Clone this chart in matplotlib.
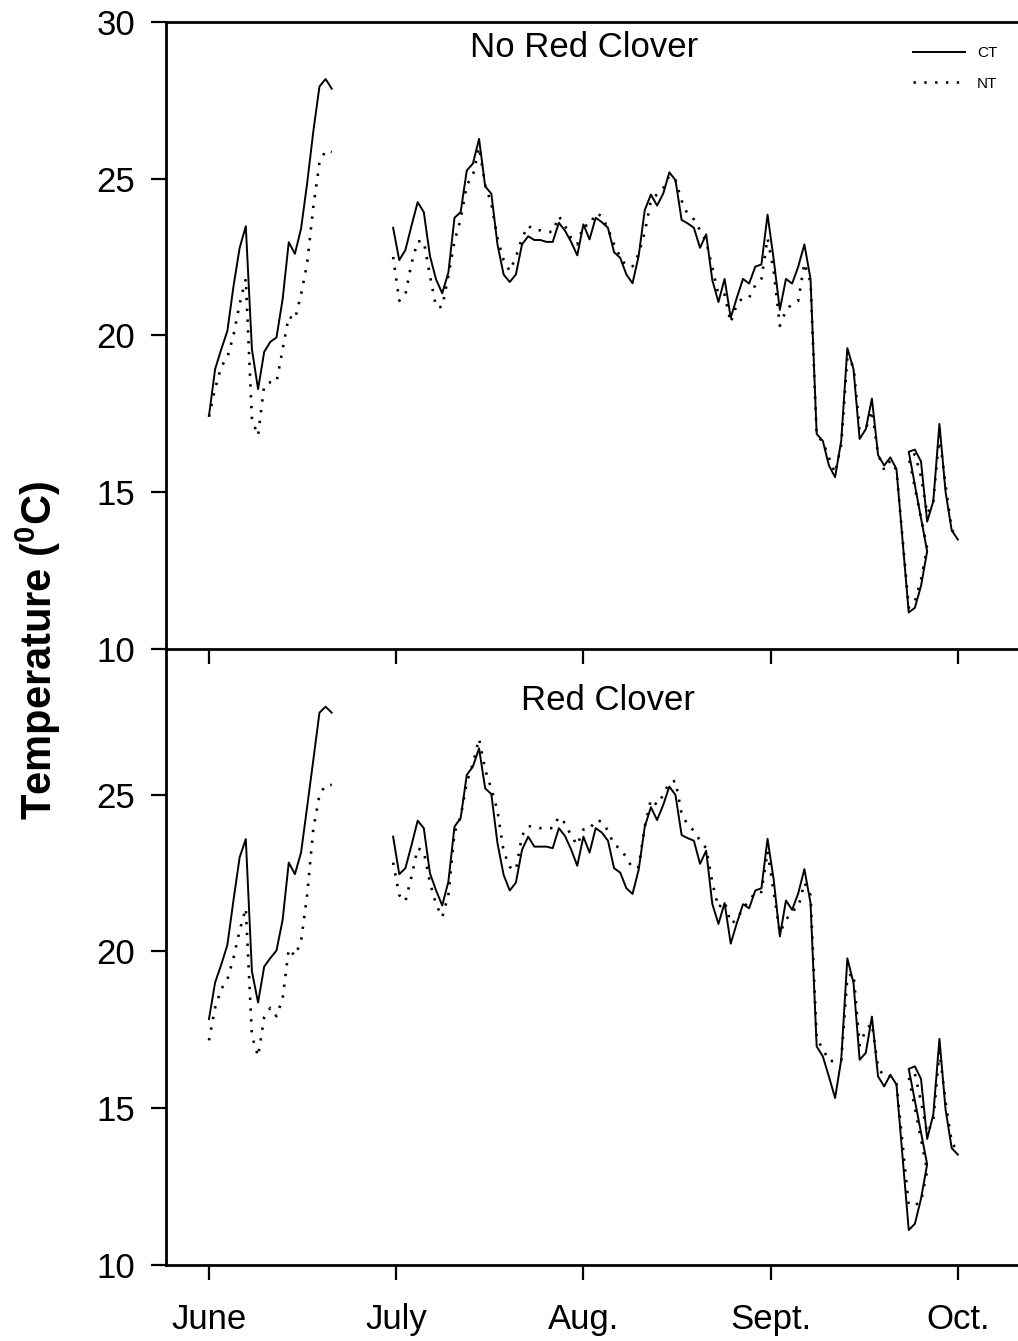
import numpy as np
import matplotlib
matplotlib.use('Agg')
import matplotlib.pyplot as plt

plt.rcParams['font.family'] = ['Liberation Sans', 'DejaVu Sans']
plt.rcParams['mathtext.fontset'] = 'custom'
plt.rcParams['mathtext.rm'] = 'Liberation Sans'
plt.rcParams['mathtext.bf'] = 'Liberation Sans:bold'

# x positions: day of year (June 1 = 152)
days_june = list(range(152, 173))
days_summer = list(range(182, 265)) + [266, 267, 268, 269] + list(range(266, 275))

month_ticks = [152, 182.5, 213, 243.5, 274]
month_labels = ['June', 'July', 'Aug.', 'Sept.', 'Oct.']

# No Red Clover
ct_norc_june = [17.43, 18.92, 19.55, 20.14, 21.57, 22.79, 23.48, 19.55, 18.28, 19.47,
                19.79, 19.93, 21.15, 22.97, 22.60, 23.40, 24.86, 26.51, 27.94, 28.18, 27.87]
nt_norc_june = [17.4, 18.3, 19.0, 19.3, 20.0, 21.0, 21.8, 17.3, 16.8, 18.4,
                18.5, 18.5, 19.55, 20.6, 20.5, 21.3, 22.3, 24.1, 25.5, 25.9, 25.85]
ct_norc = [23.43, 22.40, 22.72, 23.5, 24.25, 23.93, 22.53, 21.78, 21.34, 22.0,
           23.75, 23.93, 25.26, 25.48, 26.27, 24.75, 24.52, 22.90, 21.94, 21.70,
           21.94, 22.90, 23.16, 23.04, 23.04, 22.98, 22.98, 23.59, 23.34, 22.98,
           22.55, 23.54, 23.06, 23.75, 23.61, 23.43, 22.65, 22.47, 21.94, 21.66,
           22.53, 24.0, 24.49, 24.14, 24.52, 25.20, 24.95, 23.68, 23.57, 23.43,
           22.79, 23.22, 21.76, 21.06, 21.8, 20.56, 21.2, 21.8, 21.65, 22.19,
           22.26, 23.85, 22.42, 20.81, 21.8, 21.65, 22.19, 22.90, 21.8, 16.85,
           16.63, 15.84, 15.47, 16.63, 19.59, 18.92, 16.69, 17.0, 17.98, 16.18,
           15.84, 16.10, 15.73,
           11.15, 11.3, 12.0, 13.1,
           16.28, 16.35, 15.97, 14.05, 14.7, 17.17, 15.0, 13.77, 13.48]
nt_norc = [22.5, 21.1, 21.3, 22.3, 23.0, 23.0, 21.9, 20.9, 20.9, 21.9,
           23.0, 23.7, 24.8, 25.1, 26.0, 24.8, 24.2, 23.1, 22.4, 22.05,
           22.5, 23.1, 23.5, 23.35, 23.35, 23.3, 23.3, 23.8, 23.5, 23.1,
           22.9, 23.5, 23.5, 23.9, 23.8, 23.4, 22.9, 22.5, 22.2, 22.2,
           22.6, 23.3, 24.3, 24.5, 24.7, 25.1, 24.95, 24.3, 23.85, 23.7,
           23.35, 23.0, 22.15, 21.3, 21.3, 20.4, 21.0, 21.2, 21.2, 21.6,
           21.8, 23.1, 22.05, 20.3, 20.8, 21.0, 21.1, 22.3, 21.7, 16.8,
           16.6, 16.1, 15.6, 16.5, 19.3, 19.0, 17.0, 17.0, 17.6, 16.2,
           15.7, 16.0, 15.7,
           11.3, 11.5, 12.2, 13.2,
           16.1, 16.2, 15.5, 14.3, 14.7, 16.8, 15.2, 13.8, 13.5]

# Red Clover
ct_rc_june = [17.84, 19.01, 19.58, 20.21, 21.65, 23.01, 23.59, 19.36, 18.37, 19.52,
              19.79, 20.03, 21.01, 22.84, 22.47, 23.16, 24.63, 26.12, 27.63, 27.82, 27.63]
nt_rc_june = [17.16, 18.2, 18.8, 19.1, 19.8, 20.67, 21.38, 17.3, 16.65, 17.9,
              18.2, 17.93, 18.5, 20.08, 19.86, 20.32, 21.81, 23.92, 25.0, 25.32, 25.32]
ct_rc = [23.67, 22.47, 22.66, 23.4, 24.18, 23.94, 22.5, 21.95, 21.47, 22.23,
         23.99, 24.26, 25.64, 25.91, 26.49, 25.21, 25.03, 23.46, 22.45, 21.95,
         22.2, 23.25, 23.67, 23.35, 23.35, 23.35, 23.3, 23.94, 23.69, 23.26,
         22.74, 23.67, 23.16, 23.94, 23.8, 23.54, 22.66, 22.52, 22.02, 21.84,
         22.61, 23.99, 24.61, 24.2, 24.68, 25.27, 25.0, 23.72, 23.62, 23.54,
         22.8, 23.22, 21.52, 20.88, 21.55, 20.25, 20.91, 21.51, 21.38, 21.95,
         22.02, 23.6, 22.29, 20.48, 21.63, 21.33, 21.86, 22.63, 21.55, 16.97,
         16.65, 16.0, 15.32, 16.54, 19.78, 19.0, 16.54, 16.76, 17.92, 16.01,
         15.69, 16.06, 15.75,
         11.1, 11.3, 12.1, 13.2,
         16.25, 16.33, 15.93, 14.01, 14.79, 17.21, 14.95, 13.72, 13.51]
nt_rc = [22.84, 21.8, 21.6, 22.4, 23.3, 23.2, 22.2, 21.5, 21.1, 21.8,
         23.8, 24.3, 25.4, 26.0, 26.8, 25.8, 25.2, 24.5, 23.2, 22.7,
         22.6, 23.7, 24.0, 24.0, 23.94, 23.94, 23.94, 24.3, 24.1, 23.7,
         23.4, 23.9, 23.9, 24.2, 24.15, 23.86, 23.4, 23.3, 23.0, 22.66,
         22.7, 24.0, 24.86, 24.68, 25.0, 25.4, 25.45, 24.4, 24.04, 23.86,
         23.54, 23.3, 22.2, 21.4, 21.6, 20.9, 21.0, 21.4, 21.6, 21.9,
         21.9, 23.2, 21.9, 20.6, 21.0, 21.3, 21.4, 22.2, 21.8, 17.2,
         16.9, 16.5, 16.5, 16.5, 19.2, 19.3, 17.0, 17.5, 17.7, 16.3,
         16.0, 16.0, 15.8,
         11.9, 11.9, 12.0, 13.0,
         16.0, 16.1, 15.2, 14.2, 14.6, 16.8, 15.2, 13.9, 13.6]

W, H = 1018, 1341
fig = plt.figure(figsize=(W / 100, H / 100), dpi=100)

left = 166 / W
width = 1.0 - left
ax1 = fig.add_axes([left, 1 - 648.5 / H, width, (648.5 - 22) / H])
ax2 = fig.add_axes([left, 1 - 1264.5 / H, width, (1264.5 - 648.5) / H])

solid = dict(color='black', lw=1.4, ls='-')
dotted = dict(color='black', lw=1.9, ls=(0, (0.9, 3.2)))

ax1.plot(days_june, ct_norc_june, **solid, label='CT')
ax1.plot(days_june, nt_norc_june, **dotted, label='NT')
ax1.plot(days_summer, ct_norc, **solid)
ax1.plot(days_summer, nt_norc, **dotted)

ax2.plot(days_june, ct_rc_june, **solid)
ax2.plot(days_june, nt_rc_june, **dotted)
ax2.plot(days_summer, ct_rc, **solid)
ax2.plot(days_summer, nt_rc, **dotted)

for ax in (ax1, ax2):
    ax.set_xlim(145.0, 283.8)
    ax.set_xticks(month_ticks)
    ax.spines['right'].set_visible(False)
    for s in ('left', 'top', 'bottom'):
        ax.spines[s].set_linewidth(2.0)
    ax.tick_params(direction='out', length=11, width=1.6, labelsize=25, pad=11)

ax1.set_ylim(10, 30)
ax1.set_yticks([10, 15, 20, 25, 30])
ax1.set_xticklabels([])
ax1.set_zorder(2)
ax1.patch.set_visible(False)

ax2.set_ylim(10, 29.68)
ax2.set_yticks([10, 15, 20, 25])
ax2.spines['top'].set_visible(False)
ax2.set_xticklabels(month_labels)
ax2.tick_params(axis='x', pad=17)

ax1.text(213.1, 29.2, 'No Red Clover', ha='center', va='center', fontsize=25)
ax2.text(217.0, 28.03, 'Red Clover', ha='center', va='center', fontsize=25)

ax1.legend(loc='upper left', bbox_to_anchor=(913 / W, 1 - 46 / H), bbox_transform=fig.transFigure,
           frameon=False, fontsize=11, handlelength=3.4, handletextpad=0.8,
           labelspacing=1.1, borderpad=0, borderaxespad=0)

fig.text(38 / W, 1 - 650 / H, r'Temperature ($\mathbf{^0}$C)', rotation=90,
         ha='center', va='center', fontsize=30, fontweight='bold')

fig.savefig('out.png', dpi=100)
